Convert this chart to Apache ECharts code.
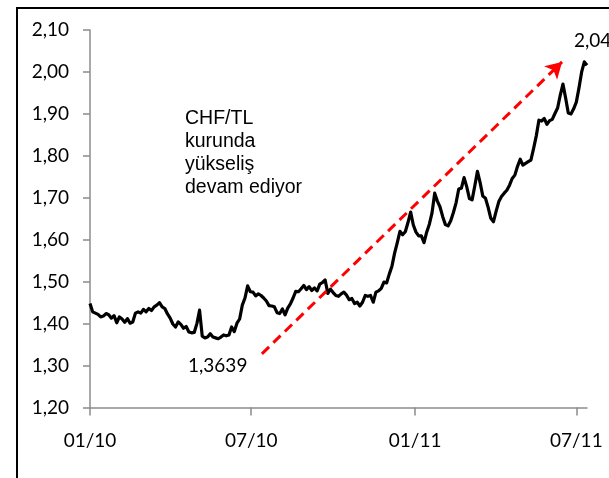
<!DOCTYPE html>
<html>
<head>
<meta charset="utf-8">
<script src="https://cdn.jsdelivr.net/npm/echarts@6/dist/echarts.min.js"></script>
<style>
  html, body { margin: 0; padding: 0; background: #fff; }
  #chart { width: 609px; height: 478px; }
</style>
</head>
<body>
<div id="chart"></div>
<script>
// CHF/TL kuru, 01/2010 - 07/2011 (3 günde bir okunan değerler)
const stepDays = 3;
const rate = [
  1.448, 1.428, 1.425, 1.422, 1.416, 1.418, 1.424, 1.421, 1.413, 1.419,
  1.402, 1.416, 1.411, 1.403, 1.412, 1.401, 1.404, 1.425, 1.428, 1.425,
  1.434, 1.428, 1.436, 1.431, 1.440, 1.444, 1.450, 1.440, 1.436, 1.423,
  1.413, 1.399, 1.392, 1.404, 1.398, 1.389, 1.393, 1.380, 1.378, 1.379,
  1.400, 1.432, 1.370, 1.366, 1.368, 1.376, 1.368, 1.366, 1.3639, 1.368,
  1.373, 1.371, 1.373, 1.392, 1.381, 1.401, 1.411, 1.444, 1.461, 1.490,
  1.476, 1.475, 1.466, 1.471, 1.467, 1.461, 1.454, 1.443, 1.442, 1.440,
  1.426, 1.424, 1.435, 1.421, 1.437, 1.447, 1.461, 1.477, 1.476, 1.483,
  1.491, 1.481, 1.488, 1.479, 1.485, 1.478, 1.494, 1.498, 1.504, 1.472,
  1.482, 1.474, 1.467, 1.465, 1.471, 1.475, 1.468, 1.457, 1.460, 1.448,
  1.451, 1.442, 1.451, 1.467, 1.465, 1.467, 1.451, 1.475, 1.478, 1.484,
  1.499, 1.497, 1.518, 1.537, 1.568, 1.593, 1.620, 1.612, 1.619, 1.641,
  1.666, 1.635, 1.618, 1.609, 1.609, 1.593, 1.618, 1.637, 1.664, 1.711,
  1.692, 1.678, 1.655, 1.636, 1.633, 1.645, 1.665, 1.688, 1.721, 1.723,
  1.748, 1.726, 1.698, 1.695, 1.728, 1.763, 1.736, 1.704, 1.699, 1.677,
  1.651, 1.643, 1.668, 1.691, 1.703, 1.711, 1.718, 1.730, 1.746, 1.754,
  1.775, 1.792, 1.778, 1.782, 1.786, 1.790, 1.817, 1.847, 1.885, 1.883,
  1.889, 1.875, 1.884, 1.887, 1.901, 1.914, 1.945, 1.971, 1.938, 1.902,
  1.900, 1.912, 1.928, 1.962, 2.000, 2.024, 2.016
];

// x ekseni: 01.01.2010'dan itibaren gün
const tickDays = [0, 181, 365, 546];
const tickLabels = ['01/10', '07/10', '01/11', '07/11'];
const lastDay = 558;

// trend oku (gün, kur)
const arrowFrom = [193, 1.328];
const arrowTo = [530, 2.024];

const lowText = '1,3639';
const highText = '2,04';
const noteText = ['CHF/TL', 'kurunda', 'yükseliş', 'devam ediyor'];

const seriesData = rate.map((v, i) => [i * stepDays, v]);

const chart = echarts.init(document.getElementById('chart'));
chart.setOption({
  animation: false,
  grid: { left: 90, right: 22, top: 30, bottom: 70.5 },
  xAxis: {
    type: 'value',
    min: 0,
    max: lastDay,
    splitLine: { show: false },
    axisLine: { lineStyle: { color: '#8c8c8c', width: 1.5 } },
    axisTick: { customValues: tickDays, length: 8, lineStyle: { color: '#8c8c8c', width: 1.5 } },
    axisLabel: {
      customValues: tickDays,
      margin: 24,
      color: '#000',
      fontFamily: 'Lato',
      fontSize: 19,
      formatter: v => tickLabels[tickDays.indexOf(v)]
    }
  },
  yAxis: {
    type: 'value',
    min: 1.2,
    max: 2.1,
    interval: 0.1,
    splitLine: { show: false },
    axisLine: { show: true, lineStyle: { color: '#8c8c8c', width: 1.5 } },
    axisTick: { show: true, length: 7, lineStyle: { color: '#8c8c8c', width: 1.5 } },
    axisLabel: {
      margin: 21,
      color: '#000',
      fontFamily: 'Lato',
      fontSize: 19,
      padding: [6, 0, 0, 0],
      formatter: v => v.toFixed(2).replace('.', ',')
    }
  },
  series: [{
    type: 'line',
    data: seriesData,
    showSymbol: false,
    lineStyle: { color: '#000', width: 3.2, join: 'round' },
    markLine: {
      silent: true,
      symbol: ['none', 'arrow'],
      symbolSize: [14, 16],
      label: { show: false },
      lineStyle: { color: '#ff0000', width: 3, type: [10, 6] },
      data: [[{ coord: arrowFrom }, { coord: arrowTo }]]
    }
  }],
  graphic: [
    {
      type: 'rect',
      shape: { x: 17, y: 8, width: 700, height: 600 },
      style: { fill: 'none', stroke: '#000', lineWidth: 2 },
      silent: true
    },
    {
      type: 'text', x: 188, y: 366,
      style: { text: lowText, font: '19px Lato', fill: '#000', verticalAlign: 'middle' }
    },
    {
      type: 'text', x: 574, y: 41,
      style: { text: highText, font: '19px Lato', fill: '#000', verticalAlign: 'middle' }
    },
    {
      type: 'text', x: 185, y: 107,
      style: {
        text: noteText.join('\n'),
        font: '19.5px "Liberation Sans"',
        lineHeight: 23,
        fill: '#000',
        verticalAlign: 'top'
      }
    }
  ]
});
</script>
</body>
</html>
